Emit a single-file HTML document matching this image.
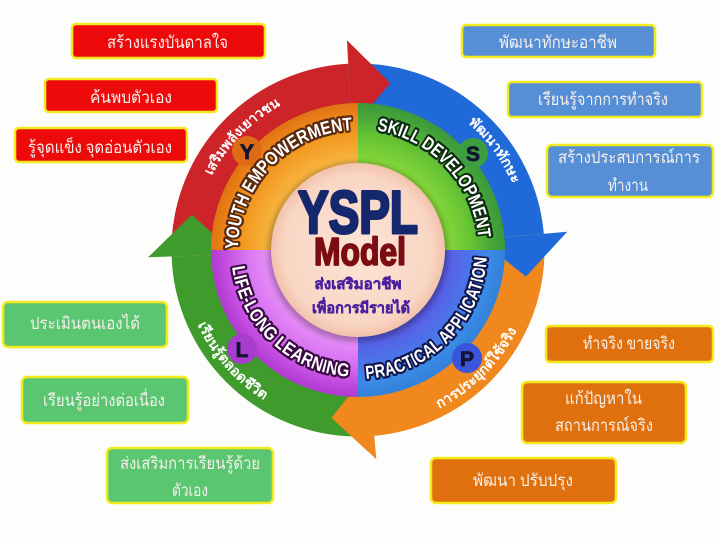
<!DOCTYPE html>
<html><head><meta charset="utf-8">
<style>
html,body{margin:0;padding:0;background:#fdfdfb;}
svg{display:block;}
.bx{font-family:"Liberation Serif","DejaVu Serif",serif;font-size:17px;fill:#f6f0ea;}
.q{font-family:"Liberation Sans Narrow","Liberation Sans",sans-serif;font-weight:bold;font-size:18.5px;fill:#fff;stroke-width:4.6px;stroke-linejoin:round;paint-order:stroke;}
.at{font-family:"Liberation Sans","DejaVu Sans",sans-serif;font-weight:bold;font-size:14px;fill:#fff;}
</style></head>
<body>
<svg width="720" height="540" viewBox="0 0 720 540" xmlns="http://www.w3.org/2000/svg">
<defs>
  <radialGradient id="gO" gradientUnits="userSpaceOnUse" cx="358" cy="250" r="147">
    <stop offset="0.59" stop-color="#f8b842"/><stop offset="0.78" stop-color="#f29a22"/><stop offset="0.9" stop-color="#ec8618"/><stop offset="1" stop-color="#e07214"/>
  </radialGradient>
  <radialGradient id="gG" gradientUnits="userSpaceOnUse" cx="358" cy="250" r="147">
    <stop offset="0.59" stop-color="#88da3a"/><stop offset="0.78" stop-color="#66c234"/><stop offset="0.9" stop-color="#4aa83a"/><stop offset="1" stop-color="#3a983a"/>
  </radialGradient>
  <radialGradient id="gB" gradientUnits="userSpaceOnUse" cx="358" cy="250" r="147">
    <stop offset="0.59" stop-color="#5c5ae8"/><stop offset="0.78" stop-color="#4a76e8"/><stop offset="0.9" stop-color="#3a8ae6"/><stop offset="1" stop-color="#3282da"/>
  </radialGradient>
  <radialGradient id="gP" gradientUnits="userSpaceOnUse" cx="358" cy="250" r="147">
    <stop offset="0.59" stop-color="#ea94fa"/><stop offset="0.78" stop-color="#d670f0"/><stop offset="0.9" stop-color="#c44ee0"/><stop offset="1" stop-color="#b03ad0"/>
  </radialGradient>
  <radialGradient id="gC" cx="0.5" cy="0.5" r="0.5">
    <stop offset="0" stop-color="#fde4d6"/><stop offset="0.85" stop-color="#f9d6c4"/><stop offset="1" stop-color="#f2c2ac"/>
  </radialGradient>
  <filter id="blur" x="-20%" y="-20%" width="140%" height="140%"><feGaussianBlur stdDeviation="3"/></filter>

  <path id="pY" d="M238.1 254.2 A120 120 0 0 1 358 130"/>
  <path id="pS" d="M358 129 A121 121 0 0 1 479 250"/>
  <path id="pPA" d="M358 379 A129 129 0 0 0 487 250"/>
  <path id="pL" d="M231 250 A127 127 0 0 0 358 377"/>

  <path id="aR" d="M194 250 A164 164 0 0 1 358 86"/>
  <path id="aB" d="M358 82 A168 168 0 0 1 526 250"/>
  <path id="aO" d="M358 428 A178 178 0 0 0 536 250"/>
  <path id="aG" d="M181 250 A177 177 0 0 0 358 427"/>
</defs>

<!-- arrow bodies -->
<g fill="none" stroke-width="41">
  <path d="M192.1 255.8 A166 166 0 0 1 349.3 84.2" stroke="#cc2429"/>
  <path d="M349.3 84.2 A166 166 0 0 1 523.4 235.5" stroke="#1f6ad8"/>
  <path d="M523.4 235.5 A166 166 0 0 1 372.5 415.4" stroke="#f0881e"/>
  <path d="M372.5 415.4 A166 166 0 0 1 192.1 255.8" stroke="#3f9b2c"/>
</g>
<!-- arrow heads -->
<polygon points="351.6,128.2 347.0,40.3 390.4,83.1" fill="#cc2429"/>
<polygon points="479.5,239.4 567.2,231.7 525.9,276.6" fill="#1f6ad8"/>
<polygon points="368.6,371.5 376.3,459.2 331.4,417.9" fill="#f0881e"/>
<polygon points="236.1,254.3 148.1,257.3 191.7,214.7" fill="#3f9b2c"/>

<!-- arrow texts -->
<text class="at"><textPath href="#aR" startOffset="77" textLength="100" lengthAdjust="spacingAndGlyphs">เสริมพลังเยาวชน</textPath></text>
<text class="at"><textPath href="#aB" startOffset="120" textLength="76" lengthAdjust="spacingAndGlyphs">พัฒนาทักษะ</textPath></text>
<text class="at"><textPath href="#aO" startOffset="84" textLength="112" lengthAdjust="spacingAndGlyphs">การประยุกต์ใช้จริง</textPath></text>
<text class="at"><textPath href="#aG" startOffset="77" textLength="102" lengthAdjust="spacingAndGlyphs">เรียนรู้ตลอดชีวิต</textPath></text>

<!-- quadrant ring -->
<path d="M358 250 L211 250 A147 147 0 0 1 358 103 Z" fill="url(#gO)"/>
<path d="M358 250 L358 103 A147 147 0 0 1 505 250 Z" fill="url(#gG)"/>
<path d="M358 250 L505 250 A147 147 0 0 1 358 397 Z" fill="url(#gB)"/>
<path d="M358 250 L358 397 A147 147 0 0 1 211 250 Z" fill="url(#gP)"/>

<!-- badges -->
<circle cx="247" cy="151" r="15" fill="#de6c16"/>
<circle cx="473" cy="153" r="15" fill="#3c9e3e"/>
<circle cx="242" cy="349" r="15" fill="#a83ccc"/>
<circle cx="467" cy="358" r="15" fill="#3a54dc"/>
<g font-family="Liberation Sans Narrow, Liberation Sans, sans-serif" font-weight="bold" font-size="21" fill="#121432" stroke="#121432" stroke-width="0.8" text-anchor="middle">
  <text x="247" y="159">Y</text>
  <text x="473" y="161">S</text>
  <text x="242" y="357">L</text>
  <text x="467" y="366">P</text>
</g>

<!-- quadrant texts -->
<text class="q" stroke="#5a2a0e"><textPath href="#pY" startOffset="5" textLength="182" lengthAdjust="spacingAndGlyphs">YOUTH EMPOWERMENT</textPath></text>
<text class="q" stroke="#0c2c10"><textPath href="#pS" startOffset="19" textLength="159" lengthAdjust="spacingAndGlyphs">SKILL DEVELOPMENT</textPath></text>
<text class="q" stroke="#101850"><textPath href="#pPA" startOffset="8" textLength="187" lengthAdjust="spacingAndGlyphs">PRACTICAL APPLICATION</textPath></text>
<text class="q" stroke="#3a0a44"><textPath href="#pL" startOffset="17" textLength="173" lengthAdjust="spacingAndGlyphs">LIFE-LONG LEARNING</textPath></text>

<!-- center -->
<circle cx="358" cy="252" r="90" fill="#000" opacity="0.28" filter="url(#blur)"/>
<circle cx="358" cy="250" r="87" fill="url(#gC)"/>
<text x="358" y="233" text-anchor="middle" font-family="Liberation Sans Narrow, Liberation Sans, sans-serif" font-weight="bold" font-size="60" fill="#15286e" stroke="#15286e" stroke-width="3" stroke-linejoin="round" textLength="120" lengthAdjust="spacingAndGlyphs">YSPL</text>
<text x="360" y="265" text-anchor="middle" font-family="Liberation Sans Narrow, Liberation Sans, sans-serif" font-weight="bold" font-size="39" fill="#7a0c12" stroke="#7a0c12" stroke-width="1.8" stroke-linejoin="round" textLength="92" lengthAdjust="spacingAndGlyphs">Model</text>
<g font-family="Liberation Sans, DejaVu Sans, sans-serif" font-weight="bold" font-size="15" fill="#4a20a0" stroke="#4a20a0" stroke-width="0.5" text-anchor="middle">
  <text x="358" y="289" textLength="87" lengthAdjust="spacingAndGlyphs">ส่งเสริมอาชีพ</text>
  <text x="361" y="313" textLength="98" lengthAdjust="spacingAndGlyphs">เพื่อการมีรายได้</text>
</g>

<!-- side boxes -->
<g stroke="#f2ea1c" stroke-width="2.5">
  <rect x="72" y="24" width="193" height="34" rx="4" fill="#ee0a0a"/>
  <rect x="45" y="79" width="172" height="33" rx="4" fill="#ee0a0a"/>
  <rect x="15" y="128" width="172" height="34" rx="4" fill="#ee0a0a"/>

  <rect x="462" y="25" width="193" height="32" rx="4" fill="#568fd6"/>
  <rect x="508" y="82" width="194" height="35" rx="4" fill="#568fd6"/>
  <rect x="547" y="145" width="166" height="52" rx="5" fill="#568fd6"/>

  <rect x="3" y="302" width="164" height="45" rx="5" fill="#5ac672"/>
  <rect x="22" y="377" width="166" height="46" rx="5" fill="#5ac672"/>
  <rect x="107" y="448" width="166" height="55" rx="5" fill="#5ac672"/>

  <rect x="546" y="326" width="167" height="36" rx="4" fill="#e0700e"/>
  <rect x="522" y="382" width="164" height="61" rx="5" fill="#e0700e"/>
  <rect x="431" y="458" width="185" height="45" rx="5" fill="#e0700e"/>
</g>
<g class="bx" text-anchor="middle">
  <text x="167.5" y="48" textLength="121" lengthAdjust="spacingAndGlyphs">สร้างแรงบันดาลใจ</text>
  <text x="131" y="103" textLength="82" lengthAdjust="spacingAndGlyphs">ค้นพบตัวเอง</text>
  <text x="100" y="153" textLength="144" lengthAdjust="spacingAndGlyphs">รู้จุดแข็ง จุดอ่อนตัวเอง</text>

  <text x="558" y="48" textLength="118" lengthAdjust="spacingAndGlyphs">พัฒนาทักษะอาชีพ</text>
  <text x="603" y="105" textLength="130" lengthAdjust="spacingAndGlyphs">เรียนรู้จากการทำจริง</text>
  <text x="629" y="163" textLength="142" lengthAdjust="spacingAndGlyphs">สร้างประสบการณ์การ</text>
  <text x="628" y="191" textLength="40" lengthAdjust="spacingAndGlyphs">ทำงาน</text>

  <text x="85" y="329" textLength="110" lengthAdjust="spacingAndGlyphs">ประเมินตนเองได้</text>
  <text x="104" y="406" textLength="122" lengthAdjust="spacingAndGlyphs">เรียนรู้อย่างต่อเนื่อง</text>
  <text x="190" y="469" textLength="140" lengthAdjust="spacingAndGlyphs">ส่งเสริมการเรียนรู้ด้วย</text>
  <text x="190" y="496" textLength="36" lengthAdjust="spacingAndGlyphs">ตัวเอง</text>

  <text x="629" y="349" textLength="92" lengthAdjust="spacingAndGlyphs">ทำจริง ขายจริง</text>
  <text x="603.5" y="404" textLength="77" lengthAdjust="spacingAndGlyphs">แก้ปัญหาใน</text>
  <text x="604" y="431" textLength="98" lengthAdjust="spacingAndGlyphs">สถานการณ์จริง</text>
  <text x="523" y="486" textLength="100" lengthAdjust="spacingAndGlyphs">พัฒนา ปรับปรุง</text>
</g>
</svg>
</body></html>
